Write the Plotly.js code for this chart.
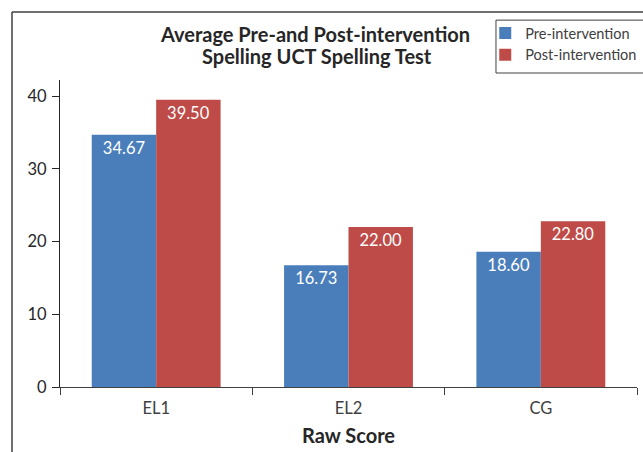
<!DOCTYPE html>
<html>
<head>
<meta charset="utf-8">
<script src="https://cdn.plot.ly/plotly-3.0.1.min.js"></script>
<style>html,body{margin:0;padding:0;background:#fff;}#chart{width:643px;height:452px;}</style>
</head>
<body>
<div id="chart"></div>
<script>
const categories = ["EL1", "EL2", "CG"];
const preValues = [34.67, 16.73, 18.60];
const postValues = [39.50, 22.00, 22.80];
const seriesNames = ["Pre-intervention", "Post-intervention"];
const yTicks = [0, 10, 20, 30, 40];
const titleLines = ["Average Pre-and Post-intervention", "Spelling UCT Spelling Test"];

const FONT = "Lato, 'Open Sans', sans-serif";
const fmt = v => v.toFixed(2);

const traces = [
  {type: "bar", name: seriesNames[0], x: categories, y: preValues,
   text: preValues.map(fmt), textposition: "inside", insidetextanchor: "end",
   textfont: {color: "#ffffff", size: 16.5, family: FONT}, constraintext: "none",
   marker: {color: "#4a7ebb"}, hoverinfo: "none"},
  {type: "bar", name: seriesNames[1], x: categories, y: postValues,
   text: postValues.map(fmt), textposition: "inside", insidetextanchor: "end",
   textfont: {color: "#ffffff", size: 16.5, family: FONT}, constraintext: "none",
   marker: {color: "#be4b48"}, hoverinfo: "none"}
];

const layout = {
  width: 643, height: 452,
  margin: {l: 60, r: 6, t: 80, b: 65, autoexpand: false},
  paper_bgcolor: "#ffffff", plot_bgcolor: "#ffffff",
  font: {family: FONT, color: "#404040", size: 16},
  barmode: "group", bargap: 0.33, bargroupgap: 0,
  xaxis: {type: "category", showline: true, linecolor: "#404040", linewidth: 1,
          ticks: "outside", tickson: "boundaries", ticklen: 7, tickcolor: "#404040",
          ticklabelstandoff: 6,
          tickfont: {size: 16.5, color: "#404040"}, showgrid: false, zeroline: false,
          automargin: false,
          title: {text: "<b>Raw Score</b>", font: {size: 20, color: "#262626"}, standoff: 12}},
  yaxis: {range: [0, 42.2], tickvals: yTicks, showline: true, linecolor: "#262626", linewidth: 1,
          ticks: "outside", ticklen: 7, tickcolor: "#262626", showgrid: false, zeroline: false,
          ticklabelstandoff: 2,
          automargin: false, tickfont: {size: 16.5, color: "#262626"}},
  legend: {x: 0.737, xanchor: "left", y: 1.205, yanchor: "top",
           borderwidth: 0, bgcolor: "rgba(0,0,0,0)",
           font: {size: 14.5, color: "#404040"}, tracegroupgap: 0, itemwidth: 30},
  annotations: [
    {text: "<b>" + titleLines[0] + "</b>", xref: "paper", yref: "paper",
     x: 0.4419, y: 1.1499, xanchor: "center", yanchor: "middle", showarrow: false,
     font: {size: 20, color: "#262626", family: FONT}},
    {text: "<b>" + titleLines[1] + "</b>", xref: "paper", yref: "paper",
     x: 0.4454, y: 1.0798, xanchor: "center", yanchor: "middle", showarrow: false,
     font: {size: 20, color: "#262626", family: FONT}}
  ],
  shapes: [
    {type: "line", xref: "paper", yref: "paper", x0: -0.0832, x1: -0.0832, y0: 1.2215, y1: -0.6,
     line: {color: "#404040", width: 1.5}},
    {type: "line", xref: "paper", yref: "paper", x0: -0.0832, x1: 1.2, y0: 1.2215, y1: 1.2215,
     line: {color: "#404040", width: 1.5}},
    {type: "rect", xref: "paper", yref: "paper", x0: 0.7556, x1: 1.2, y0: 1.0228, y1: 1.195,
     line: {color: "#404040", width: 1}, fillcolor: "rgba(0,0,0,0)", layer: "above"}
  ],
  showlegend: true
};

Plotly.newPlot("chart", traces, layout, {displayModeBar: false, staticPlot: true});
</script>
</body>
</html>
